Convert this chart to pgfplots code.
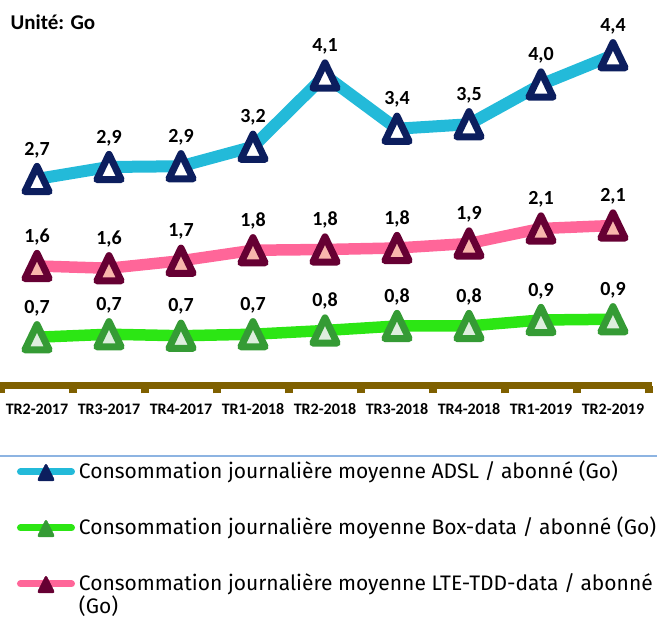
\documentclass[border=0pt]{standalone}
\usepackage{fontspec}
\setmainfont{Carlito}
\newfontfamily\legfont{Fira Sans}
\usepackage{pgfplots}
\pgfplotsset{compat=1.18}
\definecolor{adslLine}{RGB}{35,186,217}
\definecolor{adslMark}{RGB}{12,30,94}
\definecolor{boxLine}{RGB}{44,230,20}
\definecolor{boxMark}{RGB}{53,155,53}
\definecolor{boxFill}{RGB}{222,238,222}
\definecolor{lteLine}{RGB}{255,102,153}
\definecolor{lteMark}{RGB}{102,0,51}
\definecolor{lteFill}{RGB}{248,182,172}
\definecolor{axisBrown}{RGB}{127,96,0}
\definecolor{sepBlue}{RGB}{141,180,226}
\begin{document}
\begin{tikzpicture}[x=1pt,y=1pt]
\useasboundingbox (0,0) rectangle (657,620);
\begin{axis}[
  at={(1pt,234pt)}, anchor=south west,
  scale only axis, width=648pt, height=386pt,
  xmin=-0.5, xmax=8.5, ymin=0, ymax=5.14667,
  clip=false,
  axis line style={draw=none},
  ytick=\empty,
  xtick={0,...,8},
  xticklabels={TR2-2017,TR3-2017,TR4-2017,TR1-2018,TR2-2018,TR3-2018,TR4-2018,TR1-2019,TR2-2019},
  major tick length=0pt,
  minor xtick={-0.5,0.5,...,8.5},
  minor tick length=7.5pt,
  tick align=outside,
  xtick pos=bottom,
  minor tick style={axisBrown, line width=8pt},
  xticklabel style={font=\bfseries\fontsize{16}{19}\selectfont, anchor=base, yshift=-29pt, inner sep=0pt},
  nodes near coords,
  point meta=explicit symbolic,
  every node near coord/.append style={font=\bfseries\fontsize{20}{24}\selectfont, text=black, anchor=base, yshift=28pt, inner sep=0pt},
  legend style={at={(axis description cs:0.02469,-0.19689)}, anchor=north west, draw=none, fill=none,
    inner sep=0pt, outer sep=0pt, row sep=34pt, column sep=4pt,
    nodes={inner sep=0pt, text height=17pt, text depth=5pt, anchor=base west},
    font=\legfont\fontsize{21}{24}\selectfont},
  legend cell align=left,
]
\draw[axisBrown, line width=7pt] (axis cs:-0.514,0) -- (axis cs:8.54,0);
\addplot[forget plot, adslLine, line width=12pt, line join=round,
  mark=triangle*, mark size=14pt,
  mark options={solid, fill=white, draw=adslMark, line width=7pt, line join=round, yshift=-4.2pt, yscale=1.2}]
  table[meta=label] {
x y label
0 2.76 {2,7}
1 2.92 {2,9}
2 2.93 {2,9}
3 3.19 {3,2}
4 4.14 {4,1}
5 3.43 {3,4}
6 3.49 {3,5}
7 4.02 {4,0}
8 4.41 {4,4}
};
\addplot[forget plot, boxLine, line width=11.5pt, line join=round,
  mark=triangle*, mark size=14pt,
  mark options={solid, fill=boxFill, draw=boxMark, line width=7pt, line join=round, yshift=-4.2pt, yscale=1.2}]
  table[meta=label] {
x y label
0 0.65 {0,7}
1 0.69 {0,7}
2 0.67 {0,7}
3 0.69 {0,7}
4 0.74 {0,8}
5 0.80 {0,8}
6 0.80 {0,8}
7 0.88 {0,9}
8 0.89 {0,9}
};
\addplot[forget plot, lteLine, line width=11.5pt, line join=round,
  mark=triangle*, mark size=14pt,
  mark options={solid, fill=lteFill, draw=lteMark, line width=7pt, line join=round, yshift=-4.2pt, yscale=1.2}]
  table[meta=label] {
x y label
0 1.60 {1,6}
1 1.57 {1,6}
2 1.67 {1,7}
3 1.81 {1,8}
4 1.82 {1,8}
5 1.84 {1,8}
6 1.90 {1,9}
7 2.10 {2,1}
8 2.14 {2,1}
};
\addlegendimage{legend image code/.code={\draw[adslLine, line width=7pt, line cap=round] (3.5pt,7pt) -- (54.5pt,7pt);
    \fill[adslMark, rounded corners=2.5pt] (20pt,-2pt) -- (38pt,-2pt) -- (29pt,16pt) -- cycle;}}
\addlegendentry{Consommation journalière moyenne ADSL / abonné (Go)}
\addlegendimage{legend image code/.code={\draw[boxLine, line width=7pt, line cap=round] (3.5pt,7pt) -- (54.5pt,7pt);
    \fill[boxMark, rounded corners=2.5pt] (20pt,-2pt) -- (38pt,-2pt) -- (29pt,16pt) -- cycle;}}
\addlegendentry{Consommation journalière moyenne Box-data / abonné (Go)}
\addlegendimage{legend image code/.code={\draw[lteLine, line width=7pt, line cap=round] (3.5pt,7pt) -- (54.5pt,7pt);
    \fill[lteMark, rounded corners=2.5pt] (20pt,-2pt) -- (38pt,-2pt) -- (29pt,16pt) -- cycle;}}
\addlegendentry{\begin{tabular}[t]{@{}l@{}}Consommation journalière moyenne LTE-TDD-data / abonné\\[-2pt](Go)\end{tabular}}
\end{axis}
\draw[sepBlue, line width=1.5pt] (0,164) -- (657,164);
\node[anchor=base west, inner sep=0pt, font=\bfseries\fontsize{21}{25}\selectfont] at (10.5,590.7) {Unité: Go};
\end{tikzpicture}
\end{document}
